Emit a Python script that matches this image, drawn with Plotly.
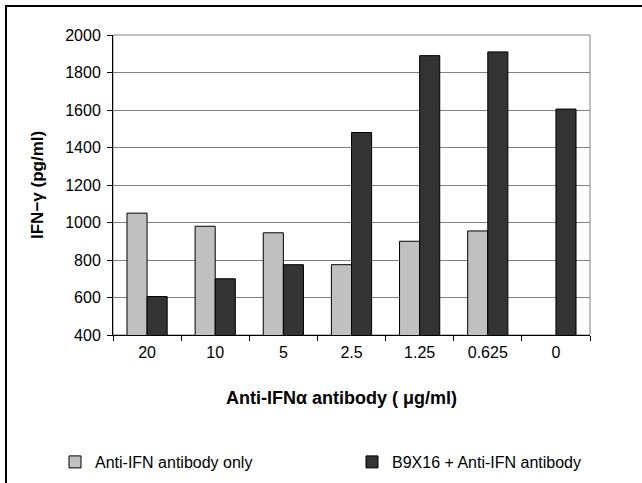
import plotly.graph_objects as go

categories = ["20", "10", "5", "2.5", "1.25", "0.625", "0"]
anti_ifn_only = [1050, 980, 945, 775, 900, 955, None]
b9x16_anti_ifn = [605, 700, 775, 1480, 1890, 1910, 1605]
y_ticks = [400, 600, 800, 1000, 1200, 1400, 1600, 1800, 2000]

W, H = 642, 483
L, R, T, B = 113, 590, 35, 335
pw, ph = R - L, B - T

def px(x):
    return (x - L) / pw

def py(y):
    return (B - y) / ph

FONT = "Liberation Sans, Arial, sans-serif"

fig = go.Figure()
fig.add_trace(go.Bar(
    x=categories, y=anti_ifn_only, name="Anti-IFN antibody only",
    marker=dict(color="#c0c0c0", line=dict(color="#000000", width=1)),
    legend="legend",
))
fig.add_trace(go.Bar(
    x=categories, y=b9x16_anti_ifn, name="B9X16 + Anti-IFN antibody",
    marker=dict(color="#333333", line=dict(color="#000000", width=1)),
    legend="legend2",
))

fig.update_layout(
    width=W, height=H, showlegend=True,
    margin=dict(l=L, r=W - R, t=T, b=H - B, autoexpand=False),
    paper_bgcolor="white", plot_bgcolor="white",
    barmode="group", bargap=0.41, bargroupgap=0,
    font=dict(family=FONT, size=16, color="black"),
    legend=dict(orientation="h", xref="container", yref="container",
                x=55 / W, y=1 - 462 / H, xanchor="left", yanchor="middle",
                font=dict(size=16), bgcolor="rgba(0,0,0,0)"),
    legend2=dict(orientation="h", xref="container", yref="container",
                 x=352 / W, y=1 - 462 / H, xanchor="left", yanchor="middle",
                 font=dict(size=16), bgcolor="rgba(0,0,0,0)"),
    xaxis=dict(
        type="category", showline=True, linecolor="black", linewidth=1,
        ticks="outside", tickson="boundaries", ticklen=5, tickcolor="black",
        showgrid=False, tickfont=dict(size=16), ticklabelstandoff=3, fixedrange=True,
    ),
    yaxis=dict(
        range=[400, 2000], tickvals=y_ticks, showline=True, linecolor="black", linewidth=1,
        ticks="outside", ticklen=5, tickcolor="black",
        showgrid=True, gridcolor="#808080", gridwidth=1, zeroline=False,
        tickfont=dict(size=16), ticklabelstandoff=3, fixedrange=True,
    ),
    shapes=[
        dict(type="rect", xref="paper", yref="paper", x0=0, x1=1, y0=0, y1=1,
             line=dict(color="#808080", width=1), layer="below"),
        dict(type="rect", xref="paper", yref="paper", x0=px(6), x1=px(646), y0=py(6), y1=py(492),
             line=dict(color="black", width=2)),
    ],
    annotations=[
        dict(text="<b>IFN\u2212\u03b3 (pg/ml)</b>", xref="paper", yref="paper",
             x=px(37), y=0.5, xanchor="center", yanchor="middle", textangle=-90,
             showarrow=False, font=dict(size=17)),
        dict(text="<b>Anti-IFN\u03b1 antibody ( \u03bcg/ml)</b>", xref="paper", yref="paper",
             x=px(341), y=py(398), xanchor="center", yanchor="middle",
             showarrow=False, font=dict(size=18)),
    ],
)

fig.write_html("out.html", config={"displayModeBar": False, "staticPlot": True},
               post_script="document.body.style.margin='0px';")
